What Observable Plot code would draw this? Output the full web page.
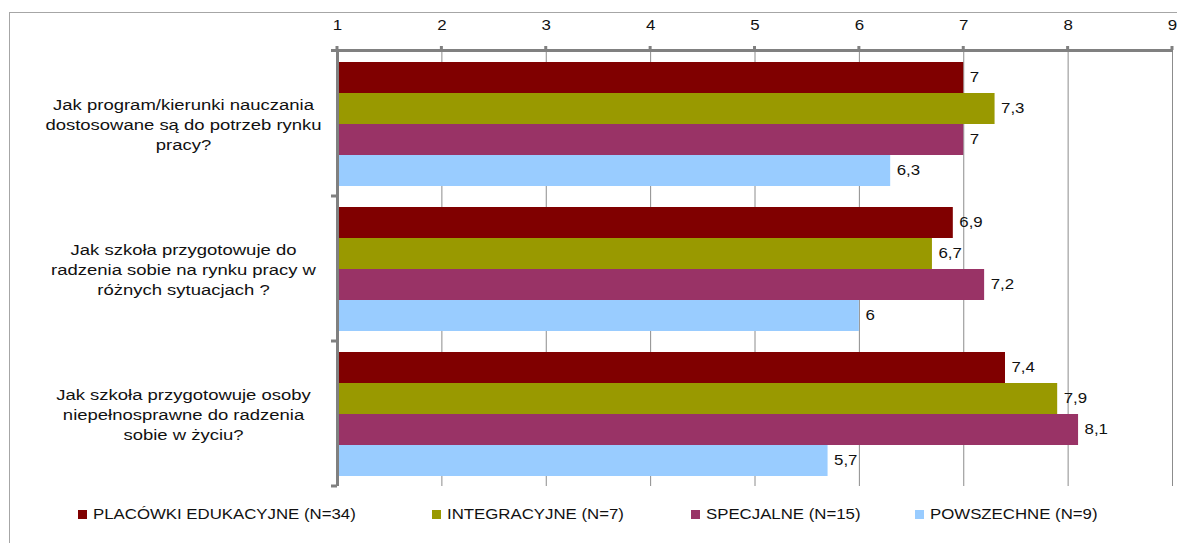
<!DOCTYPE html>
<html>
<head>
<meta charset="utf-8">
<script src="https://cdn.jsdelivr.net/npm/d3@7"></script>
<script src="https://cdn.jsdelivr.net/npm/@observablehq/plot@0.6"></script>
<style>
  html, body { margin: 0; padding: 0; background: #fff; }
  body { width: 1177px; height: 543px; overflow: hidden; position: relative; font-family: "Liberation Sans", Arial, sans-serif; }
  #frame { position: absolute; left: 9px; top: 12px; width: 1300px; height: 700px; border: 1px solid #a6a6a6; box-sizing: border-box; }
  #chart { position: absolute; left: 0; top: 0; }
  #legend { position: absolute; left: 78px; top: 506px; display: grid; grid-template-columns: 354px 259px 224px auto; align-items: center; font-size: 14px; color: #111; white-space: nowrap; }
  .item { display: flex; align-items: center; }
  .sw { width: 9px; height: 9px; margin-right: 6px; }
  .item span { display: inline-block; transform: scaleX(1.2); transform-origin: left center; }
</style>
</head>
<body>
<div id="frame"></div>
<div id="chart"></div>
<div id="legend"></div>
<script>
// ---- data ----
const questions = [
  "Jak program/kierunki nauczania\ndostosowane są do potrzeb rynku\npracy?",
  "Jak szkoła przygotowuje do\nradzenia sobie na rynku pracy w\nróżnych sytuacjach ?",
  "Jak szkoła przygotowuje osoby\nniepełnosprawne do radzenia\nsobie w życiu?"
];
const series = ["PLACÓWKI EDUKACYJNE (N=34)", "INTEGRACYJNE (N=7)", "SPECJALNE (N=15)", "POWSZECHNE (N=9)"];
const colors = ["#800000", "#999900", "#993366", "#99CCFF"];
const placowki = [7, 6.9, 7.4];
const integracyjne = [7.3, 6.7, 7.9];
const specjalne = [7, 7.2, 8.1];
const powszechne = [6.3, 6, 5.7];
const xTicks = [1, 2, 3, 4, 5, 6, 7, 8, 9];

const seriesValues = [placowki, integracyjne, specjalne, powszechne];
const rows = questions.flatMap((q, i) => series.map((s, j) => ({q, s, v: seriesValues[j][i]})));
const xMin = xTicks[0], xMax = xTicks[xTicks.length - 1];
const fmt = v => String(v).replace(".", ",");
const axisGray = "#808080";
const stretch = 1.2;

const chart = Plot.plot({
  width: 1177,
  height: 500,
  marginTop: 50,
  marginBottom: 13,
  marginLeft: 337,
  marginRight: 5,
  style: {fontFamily: "'Liberation Sans', Arial, sans-serif", fontSize: "14px", color: "#111", background: "transparent", overflow: "visible"},
  x: {domain: [xMin, xMax], ticks: xTicks, axis: "top", tickSize: 0, tickPadding: 22, tickFormat: d => String(d), label: null},
  y: {domain: series, axis: null, paddingInner: 0, paddingOuter: 0.276},
  fy: {domain: questions, axis: null, padding: 0},
  color: {domain: series, range: colors},
  marks: [
    Plot.gridX(xTicks, {stroke: "#8c8c8c", strokeOpacity: 1}),
    Plot.barX(rows, {fy: "q", y: "s", x1: xMin, x2: "v", fill: "s"}),
    Plot.ruleX([xMin], {stroke: axisGray, strokeWidth: 3}),
    Plot.text(rows, {fy: "q", y: "s", x: "v", text: d => fmt(d.v), dx: 6, textAnchor: "start", fill: "#111", fontSize: 14}),
    Plot.text(questions, {fy: d => d, text: d => d, frameAnchor: "left", dx: -154, textAnchor: "middle", lineHeight: 1.3, fill: "#111", fontSize: 15.4})
  ]
});
document.getElementById("chart").appendChild(chart);

// widen glyphs a little, as in the reference rendering
d3.select(chart).selectAll("text").each(function() {
  const tspans = this.querySelectorAll("tspan");
  const targets = tspans.length ? Array.from(tspans) : [this];
  targets.forEach(t => {
    const L = t.getComputedTextLength();
    if (L > 0) {
      t.setAttribute("textLength", (L * stretch).toFixed(1));
      t.setAttribute("lengthAdjust", "spacingAndGlyphs");
    }
  });
});

// axis lines & tick nubs drawn from Plot's own scales
const sx = chart.scale("x"), sfy = chart.scale("fy");
const g = d3.select(chart).append("g").attr("stroke", axisGray).attr("stroke-width", 3);
const topY = sfy.apply(questions[0]);
const bottoms = questions.map(q => sfy.apply(q) + sfy.bandwidth);
const xa = sx.apply(xMin), xb = sx.apply(xMax);
g.append("line").attr("x1", xa - 6).attr("x2", xb + 1).attr("y1", topY - 0.5).attr("y2", topY - 0.5);
xTicks.forEach(t => {
  g.append("line").attr("x1", sx.apply(t)).attr("x2", sx.apply(t)).attr("y1", topY - 5).attr("y2", topY - 1);
});
bottoms.forEach(b => {
  g.append("line").attr("x1", xa - 6).attr("x2", xa).attr("y1", b).attr("y2", b);
});

// legend
const legend = d3.select("#legend");
series.forEach((s, i) => {
  const it = legend.append("div").attr("class", "item");
  it.append("div").attr("class", "sw").style("background", colors[i]);
  it.append("span").text(s);
});
</script>
</body>
</html>
